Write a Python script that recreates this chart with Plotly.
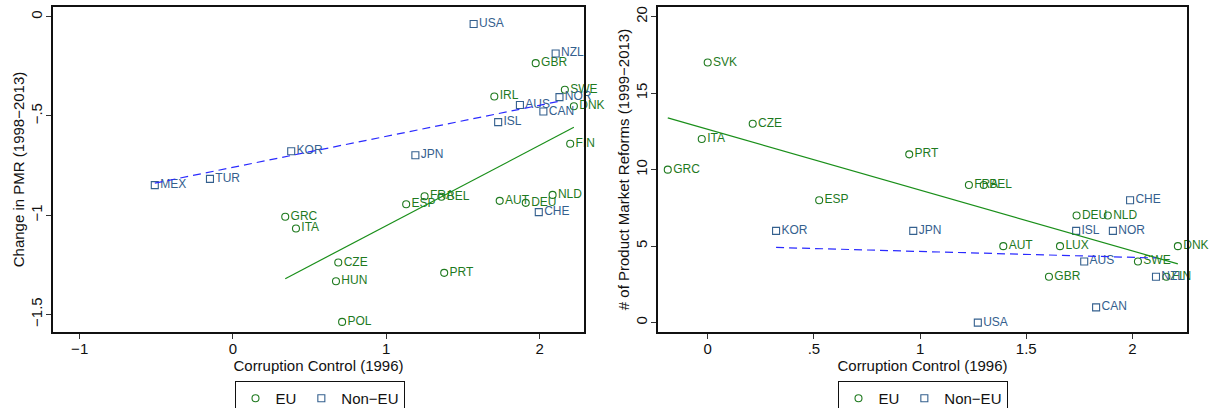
import numpy as np
import plotly.graph_objects as go

# ---------------- Data: left panel (Change in PMR) ----------------
l_eu_names = ["GBR", "SWE", "IRL", "DNK", "FIN", "FRA", "BEL", "ESP", "AUT", "DEU",
              "NLD", "GRC", "ITA", "CZE", "PRT", "HUN", "POL"]
l_eu_x = [1.975, 2.165, 1.705, 2.224, 2.200, 1.250, 1.360, 1.130, 1.740, 1.910,
          2.085, 0.341, 0.411, 0.687, 1.378, 0.672, 0.712]
l_eu_y = [-0.234, -0.368, -0.402, -0.451, -0.640, -0.905, -0.907, -0.945, -0.928, -0.938,
          -0.898, -1.008, -1.067, -1.239, -1.291, -1.333, -1.538]

l_ne_names = ["USA", "NZL", "NOR", "AUS", "CAN", "ISL", "KOR", "JPN", "TUR", "MEX", "CHE"]
l_ne_x = [1.570, 2.105, 2.130, 1.872, 2.025, 1.730, 0.380, 1.190, -0.150, -0.510, 1.995]
l_ne_y = [-0.037, -0.185, -0.405, -0.445, -0.478, -0.531, -0.678, -0.698, -0.817, -0.849, -0.985]

# ---------------- Data: right panel (# of reforms) ----------------
r_eu_names = ["SVK", "CZE", "ITA", "GRC", "PRT", "FRA", "BEL", "ESP", "DEU", "NLD",
              "AUT", "LUX", "DNK", "SWE", "GBR", "FIN"]
r_eu_x = [0.000, 0.212, -0.028, -0.188, 0.949, 1.230, 1.300, 0.525, 1.737, 1.884,
          1.392, 1.659, 2.214, 2.026, 1.607, 2.160]
r_eu_y = [17, 13, 12, 10, 11, 9, 9, 8, 7, 7, 5, 5, 5, 4, 3, 3]

r_ne_names = ["CHE", "KOR", "JPN", "ISL", "NOR", "AUS", "NZL", "CAN", "USA"]
r_ne_x = [1.989, 0.322, 0.968, 1.735, 1.908, 1.773, 2.111, 1.829, 1.272]
r_ne_y = [8, 6, 6, 6, 6, 4, 3, 1, 0]

# ticks
l_xticks = [-1, 0, 1, 2]
l_xtext = ["\u22121", "0", "1", "2"]
l_yticks = [0, -0.5, -1, -1.5]
l_ytext = ["0", "\u2212.5", "\u22121", "\u22121.5"]
r_xticks = [0, 0.5, 1, 1.5, 2]
r_xtext = ["0", ".5", "1", "1.5", "2"]
r_yticks = [0, 5, 10, 15, 20]
r_ytext = ["0", "5", "10", "15", "20"]

# ---------------- Styles ----------------
FONT = "Liberation Sans, Arial, Helvetica, sans-serif"
EU_COL = "#1f7a1f"
NE_COL = "#34608e"
EU_LINE = "#1a8f1a"
NE_LINE = "#2a2aff"
W, H = 1214, 408


def fit(xs, ys):
    b, a = np.polyfit(np.array(xs), np.array(ys), 1)
    xx = np.array([min(xs), max(xs)])
    return xx, a + b * xx


fig = go.Figure()


def add_panel(xa, ya, eu_n, eu_x, eu_y, ne_n, ne_x, ne_y):
    fig.add_trace(go.Scatter(
        x=eu_x, y=eu_y, text=eu_n, mode="markers+text", textposition="middle right",
        marker=dict(symbol="circle-open", size=7, color=EU_COL, line=dict(width=1.1, color=EU_COL)),
        textfont=dict(family=FONT, size=12, color=EU_COL), cliponaxis=False,
        showlegend=False, xaxis=xa, yaxis=ya, hoverinfo="text"))
    fig.add_trace(go.Scatter(
        x=ne_x, y=ne_y, text=ne_n, mode="markers+text", textposition="middle right",
        marker=dict(symbol="square-open", size=7, color=NE_COL, line=dict(width=1.1, color=NE_COL)),
        textfont=dict(family=FONT, size=12, color=NE_COL), cliponaxis=False,
        showlegend=False, xaxis=xa, yaxis=ya, hoverinfo="text"))
    fx, fy = fit(eu_x, eu_y)
    fig.add_trace(go.Scatter(x=fx, y=fy, mode="lines", line=dict(color=EU_LINE, width=1.2),
                             showlegend=False, xaxis=xa, yaxis=ya, hoverinfo="skip"))
    fx, fy = fit(ne_x, ne_y)
    fig.add_trace(go.Scatter(x=fx, y=fy, mode="lines",
                             line=dict(color=NE_LINE, width=1.2, dash="8px,5px"),
                             showlegend=False, xaxis=xa, yaxis=ya, hoverinfo="skip"))


add_panel("x", "y", l_eu_names, l_eu_x, l_eu_y, l_ne_names, l_ne_x, l_ne_y)
add_panel("x2", "y2", r_eu_names, r_eu_x, r_eu_y, r_ne_names, r_ne_x, r_ne_y)

# legend-only entries
for lg, xa, ya in [("legend", "x", "y"), ("legend2", "x2", "y2")]:
    fig.add_trace(go.Scatter(x=[None], y=[None], mode="markers", name="EU",
                             marker=dict(symbol="circle-open", size=7, color=EU_COL,
                                         line=dict(width=1.1, color=EU_COL)),
                             legend=lg, xaxis=xa, yaxis=ya))
    fig.add_trace(go.Scatter(x=[None], y=[None], mode="markers", name="Non\u2212EU",
                             marker=dict(symbol="square-open", size=7, color=NE_COL,
                                         line=dict(width=1.1, color=NE_COL)),
                             legend=lg, xaxis=xa, yaxis=ya))


def axis_common():
    return dict(showline=True, mirror=True, linecolor="#111", linewidth=1.5,
                ticks="outside", ticklen=5, tickwidth=1, tickcolor="#333",
                showgrid=False, zeroline=False,
                tickfont=dict(family=FONT, size=15, color="#111"))


top, bot = 1 - 7 / H, 1 - 332 / H
TFONT = dict(family=FONT, size=15, color="#111")

xl = axis_common()
xl.update(domain=[53 / W, 584 / W], range=[-1.174, 2.29], tickvals=l_xticks, ticktext=l_xtext,
          anchor="y", ticklabelstandoff=-3,
          title=dict(text="Corruption Control (1996)", standoff=1, font=TFONT))
yl = axis_common()
yl.update(domain=[bot, top], range=[-1.589, 0.049], tickvals=l_yticks, ticktext=l_ytext,
          tickangle=-90, anchor="x", ticklabelstandoff=-2,
          title=dict(text="Change in PMR (1998\u22122013)", standoff=0, font=TFONT))
xr = axis_common()
xr.update(domain=[658 / W, 1187 / W], range=[-0.234, 2.257], tickvals=r_xticks, ticktext=r_xtext,
          anchor="y2", ticklabelstandoff=-3,
          title=dict(text="Corruption Control (1996)", standoff=1, font=TFONT))
yr = axis_common()
yr.update(domain=[bot, top], range=[-0.61, 20.63], tickvals=r_yticks, ticktext=r_ytext,
          tickangle=-90, anchor="x2", ticklabelstandoff=-2,
          title=dict(text="# of Product Market Reforms (1999\u22122013)", standoff=0, font=TFONT))

leg_common = dict(orientation="h", xanchor="center", yanchor="top", y=1 - 381 / H,
                  bordercolor="#111", borderwidth=1, bgcolor="white",
                  font=dict(family=FONT, size=15, color="#111"), itemwidth=30,
                  tracegroupgap=0)

fig.update_layout(
    width=W, height=H, margin=dict(l=0, r=0, t=0, b=0, autoexpand=False),
    paper_bgcolor="white", plot_bgcolor="white",
    xaxis=xl, yaxis=yl, xaxis2=xr, yaxis2=yr,
    legend=dict(x=319.5 / W, **leg_common),
    legend2=dict(x=922.5 / W, **leg_common),
    font=dict(family=FONT),
)

fig.write_html("out.html", config={"displayModeBar": False},
               post_script="document.body.style.margin='0';document.body.style.padding='0';")
